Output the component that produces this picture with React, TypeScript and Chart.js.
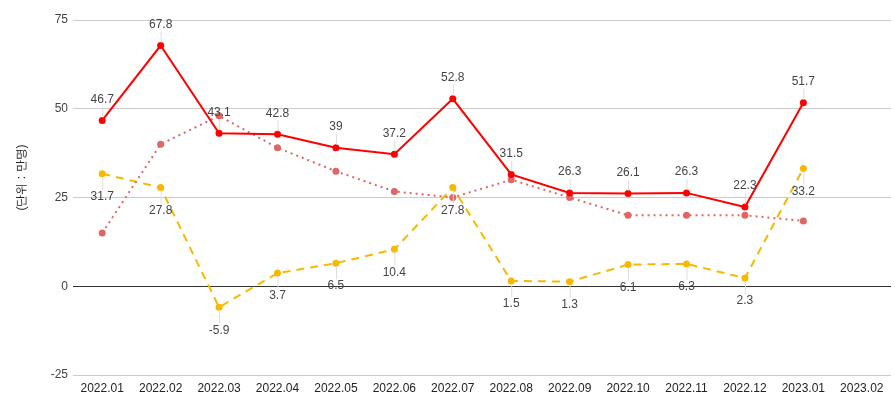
import React, { useEffect, useRef } from "react";
import { Chart, registerables } from "chart.js";

Chart.register(...registerables);

const categories = [
  "2022.01", "2022.02", "2022.03", "2022.04", "2022.05", "2022.06", "2022.07",
  "2022.08", "2022.09", "2022.10", "2022.11", "2022.12", "2023.01", "2023.02",
];
const redSeries: (number | null)[] = [46.7, 67.8, 43.1, 42.8, 39, 37.2, 52.8, 31.5, 26.3, 26.1, 26.3, 22.3, 51.7, null];
const yellowSeries: (number | null)[] = [31.7, 27.8, -5.9, 3.7, 6.5, 10.4, 27.8, 1.5, 1.3, 6.1, 6.3, 2.3, 33.2, null];
const pinkSeries: (number | null)[] = [15, 40, 48, 39, 32.4, 26.7, 25, 30, 25, 20, 20, 20, 18.4, null];
const yTicks = [-25, 0, 25, 50, 75];
const yTitle = "(단위 : 만명)";

const FONT = "'Liberation Sans', Arial, sans-serif";

const labelPlugin = {
  id: "stemLabels",
  afterDatasetsDraw(chart: any) {
    const ctx = chart.ctx;
    ctx.save();
    ctx.font = `12px ${FONT}`;
    ctx.textAlign = "center";
    ctx.textBaseline = "middle";
    chart.data.datasets.forEach((ds: any, di: number) => {
      const pos = ds.labelPos;
      if (!pos) return;
      const meta = chart.getDatasetMeta(di);
      meta.data.forEach((pt: any, i: number) => {
        const v = ds.data[i];
        if (v === null || v === undefined) return;
        const x = pt.x;
        const y = pt.y;
        const ly = pos === "above" ? y - 21 : y + 23;
        ctx.strokeStyle = "#dddddd";
        ctx.lineWidth = 1;
        ctx.beginPath();
        if (pos === "above") {
          ctx.moveTo(x + 0.5, y - 3);
          ctx.lineTo(x + 0.5, ly + 7);
        } else {
          ctx.moveTo(x + 0.5, y + 3);
          ctx.lineTo(x + 0.5, ly - 7);
        }
        ctx.stroke();
        ctx.fillStyle = "#444444";
        ctx.fillText(String(v), x, ly);
      });
    });
    // y-axis title
    const area = chart.chartArea;
    ctx.translate(22, (area.top + area.bottom) / 2 - 20);
    ctx.rotate(-Math.PI / 2);
    ctx.fillStyle = "#222222";
    ctx.font = `12px ${FONT}`;
    ctx.fillText(yTitle, 0, 0);
    ctx.restore();
  },
};

export default function App() {
  const ref = useRef<HTMLCanvasElement | null>(null);
  useEffect(() => {
    document.body.style.margin = "0";
    if (!ref.current) return;
    const chart = new Chart(ref.current, {
      type: "line",
      data: {
        labels: categories,
        datasets: [
          {
            data: redSeries,
            borderColor: "#ff0000",
            backgroundColor: "#ff0000",
            borderWidth: 2,
            pointRadius: 3.5,
            pointBorderWidth: 0,
            tension: 0,
            labelPos: "above",
          } as any,
          {
            data: pinkSeries,
            borderColor: "#e06666",
            backgroundColor: "#e06666",
            borderWidth: 2,
            borderDash: [2, 4],
            pointRadius: 3.5,
            pointBorderWidth: 0,
            tension: 0,
          } as any,
          {
            data: yellowSeries,
            borderColor: "#f6b900",
            backgroundColor: "#f6b900",
            borderWidth: 2,
            borderDash: [8, 6],
            pointRadius: 3.5,
            pointBorderWidth: 0,
            tension: 0,
            labelPos: "below",
          } as any,
        ],
      },
      options: {
        animation: false,
        responsive: false,
        layout: { padding: { top: 20, right: 2, left: 0, bottom: 0 } },
        plugins: { legend: { display: false }, tooltip: { enabled: false } },
        scales: {
          x: {
            offset: true,
            grid: { display: false, drawTicks: false },
            border: { display: false },
            ticks: { color: "#222222", font: { size: 12, family: FONT }, padding: 6, maxRotation: 0, autoSkip: false },
            afterFit: (s: any) => { s.height = 25; },
          },
          y: {
            min: -25,
            max: 75,
            afterBuildTicks: (s: any) => { s.ticks = yTicks.map((v) => ({ value: v })); },
            grid: {
              drawTicks: false,
              color: (c: any) => (c.tick && c.tick.value === 0 ? "#333333" : "#cccccc"),
              lineWidth: 1,
            },
            border: { display: false },
            ticks: { color: "#444444", font: { size: 12, family: FONT }, padding: 5 },
            title: { display: false },
            afterFit: (s: any) => { s.width = 73; },
          },
        },
      },
      plugins: [labelPlugin],
    } as any);
    return () => chart.destroy();
  }, []);
  return (
    <div style={{ width: 895, height: 400 }}>
      <canvas ref={ref} width={895} height={400} style={{ display: "block" }} />
    </div>
  );
}
